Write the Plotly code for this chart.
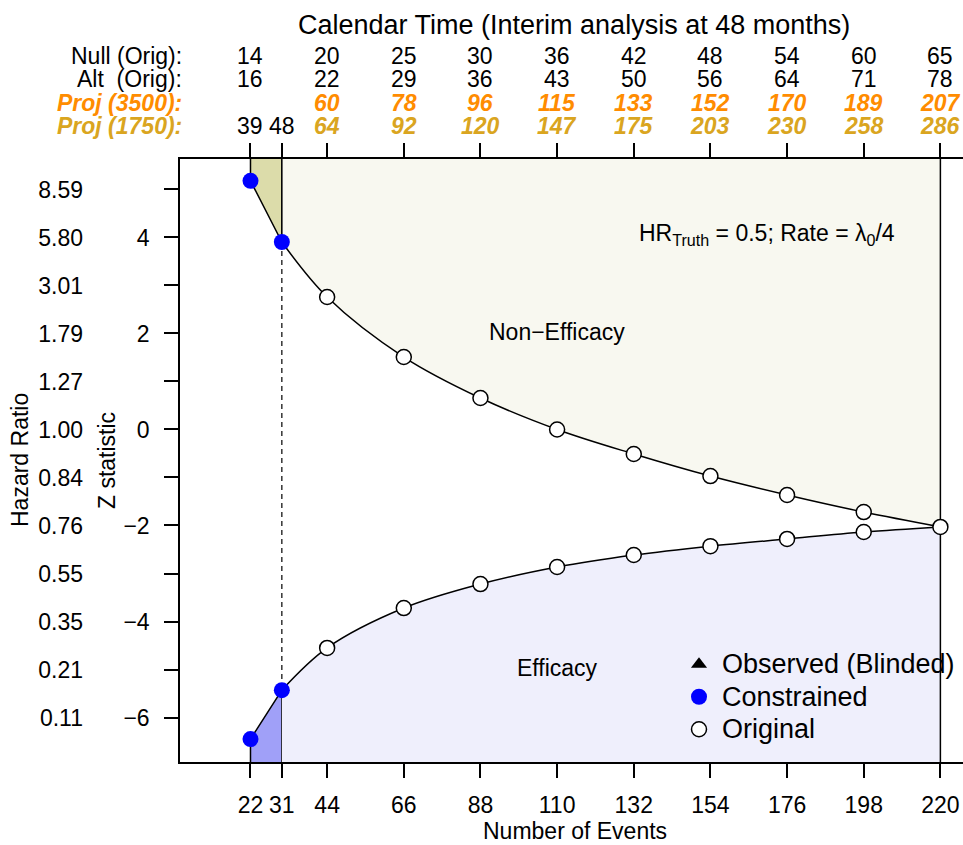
import plotly.graph_objects as go

# ---------------- data ----------------
events = [22, 31, 44, 66, 88, 110, 132, 154, 176, 198, 220]
upper_z = [5.18, 3.906, 2.76, 1.51, 0.656, 0.0, -0.51, -0.97, -1.365, -1.72, -2.03]
lower_z = [-6.45, -5.43, -4.55, -3.72, -3.22, -2.865, -2.615, -2.43, -2.28, -2.135, -2.03]

z_ticks = [-6, -5, -4, -3, -2, -1, 0, 1, 2, 3, 4, 5]
z_ticktext = ["\u22126", "", "\u22124", "", "\u22122", "", "0", "", "2", "", "4", ""]
hr_ticktext = ["0.11", "0.21", "0.35", "0.55", "0.76", "0.84", "1.00", "1.27", "1.79", "3.01", "5.80", "8.59"]

null_orig = ["14", "", "20", "25", "30", "36", "42", "48", "54", "60", "65"]
alt_orig = ["16", "", "22", "29", "36", "43", "50", "56", "64", "71", "78"]
proj_3500 = ["", "", "60", "78", "96", "115", "133", "152", "170", "189", "207"]
proj_1750 = ["39", "48", "64", "92", "120", "147", "175", "203", "230", "258", "286"]
proj_1750_observed = [True, True, False, False, False, False, False, False, False, False, False]

X_RANGE = [1.77, 226.49]
Y_RANGE = [-6.927, 5.635]
Y_BOT, Y_TOP = Y_RANGE

W, H = 963, 845
FONT = "Liberation Sans, Arial, sans-serif"
ORANGE = "#FF8C00"
GOLD = "#DAA520"


def px(xp):
    return xp / W


def py(yp):
    return 1 - yp / H


fig = go.Figure()

# upper dark region (22-31)
fig.add_trace(go.Scatter(
    x=[events[0], events[0], events[1], events[1]],
    y=[Y_TOP, upper_z[0], upper_z[1], Y_TOP],
    mode="lines", fill="toself", fillcolor="#DCDCAA",
    line=dict(color="black", width=1.5), showlegend=False, hoverinfo="skip"))
# upper light region (31-220)
fig.add_trace(go.Scatter(
    x=events[1:], y=[Y_TOP] * len(events[1:]), mode="lines",
    line=dict(width=0, color="rgba(0,0,0,0)"), showlegend=False, hoverinfo="skip"))
fig.add_trace(go.Scatter(
    x=events[1:], y=upper_z[1:], mode="lines", fill="tonexty", fillcolor="#F8F8F0",
    line=dict(color="black", width=1.5, shape="spline", smoothing=1.0),
    showlegend=False, hoverinfo="skip"))
# lower dark region (22-31)
fig.add_trace(go.Scatter(
    x=[events[0], events[0], events[1], events[1]],
    y=[Y_BOT, lower_z[0], lower_z[1], Y_BOT],
    mode="lines", fill="toself", fillcolor="#A0A0F8",
    line=dict(color="black", width=1.5), showlegend=False, hoverinfo="skip"))
# lower light region (31-220)
fig.add_trace(go.Scatter(
    x=events[1:], y=[Y_BOT] * len(events[1:]), mode="lines",
    line=dict(width=0, color="rgba(0,0,0,0)"), showlegend=False, hoverinfo="skip"))
fig.add_trace(go.Scatter(
    x=events[1:], y=lower_z[1:], mode="lines", fill="tonexty", fillcolor="#EFEFFC",
    line=dict(color="black", width=1.5, shape="spline", smoothing=1.0),
    showlegend=False, hoverinfo="skip"))
# vertical borders
fig.add_trace(go.Scatter(
    x=[events[1], events[1], None, events[-1], events[-1]],
    y=[Y_TOP, upper_z[1], None, Y_BOT, Y_TOP],
    mode="lines", line=dict(color="black", width=1.5), showlegend=False, hoverinfo="skip"))
# dashed line at interim
fig.add_trace(go.Scatter(
    x=[events[1], events[1]], y=[upper_z[1], lower_z[1]],
    mode="lines", line=dict(color="black", width=1.2, dash="5px,4px"),
    showlegend=False, hoverinfo="skip"))
# dummy trace so the hazard-ratio axis is drawn
fig.add_trace(go.Scatter(x=[None], y=[None], yaxis="y2", mode="markers",
                         showlegend=False, hoverinfo="skip"))

LEG = '<span style="font-size:27px">{}</span>'
# legend + points
fig.add_trace(go.Scatter(
    x=[None], y=[None], mode="markers", name=LEG.format("Observed (Blinded)"),
    marker=dict(symbol="triangle-up", color="black", size=14)))
fig.add_trace(go.Scatter(
    x=events[:2] + events[:2], y=upper_z[:2] + lower_z[:2], mode="markers",
    name=LEG.format("Constrained"), marker=dict(color="#0000FF", size=16, line=dict(width=0))))
fig.add_trace(go.Scatter(
    x=events[2:] + events[2:-1], y=upper_z[2:] + lower_z[2:-1], mode="markers",
    name=LEG.format("Original"),
    marker=dict(color="white", size=15, line=dict(color="black", width=1.5))))


def ann(x, y, text, xref="paper", yref="paper", size=23, color="black", **kw):
    d = dict(x=x, y=y, xref=xref, yref=yref, text=text, showarrow=False,
             xanchor="center", yanchor="middle", font=dict(size=size, color=color))
    d.update(kw)
    return d


annotations = []
# region labels
annotations.append(ann(110, 2.03, "Non\u2212Efficacy", xref="x", yref="y"))
annotations.append(ann(110, -4.97, "Efficacy", xref="x", yref="y"))
annotations.append(ann(px(767), py(235),
                       "HR<sub>Truth</sub> = 0.5; Rate = \u03bb<sub>0</sub>/4"))

# top rows
annotations.append(ann(px(573.5), py(25), "Calendar Time (Interim analysis at 48 months)", size=27))
row_y = [55.8, 79.2, 102.7, 126]
row_labels = ["Null (Orig):", "Alt\u00a0 (Orig):", "<b><i>Proj (3500):</i></b>", "<b><i>Proj (1750):</i></b>"]
row_colors = ["black", "black", ORANGE, GOLD]
for ry, lab, col in zip(row_y, row_labels, row_colors):
    annotations.append(ann(px(184), py(ry), lab, color=col, xanchor="right"))

rows = [(row_y[0], null_orig, "black", False),
        (row_y[1], alt_orig, "black", False),
        (row_y[2], proj_3500, ORANGE, True),
        (row_y[3], proj_1750, GOLD, True)]
for i, ev in enumerate(events):
    for ry, vals, col, styled in rows:
        v = vals[i]
        if not v:
            continue
        c = col
        txt = v
        if vals is proj_1750 and proj_1750_observed[i]:
            c = "black"
        elif styled:
            txt = "<b><i>" + v + "</i></b>"
        annotations.append(ann(ev, py(ry), txt, xref="x", yref="paper", color=c))

# axis titles
annotations.append(ann(px(575), py(831), "Number of Events"))
annotations.append(ann(px(20), py(460), "Hazard Ratio", textangle=-90))
annotations.append(ann(px(107), py(461), "Z statistic", textangle=-90))

fig.update_layout(
    width=W, height=H,
    margin=dict(l=0, r=0, t=0, b=0, pad=0),
    paper_bgcolor="white", plot_bgcolor="white",
    font=dict(family=FONT, color="black", size=23),
    showlegend=True,
    legend=dict(x=px(676), y=py(643), xanchor="left", yanchor="top",
                bgcolor="rgba(0,0,0,0)", borderwidth=0, traceorder="normal",
                font=dict(size=22.7), itemsizing="trace", itemwidth=36, tracegroupgap=0),
    annotations=annotations,
    xaxis=dict(domain=[180 / W, 1], range=X_RANGE, tickmode="array",
               tickvals=events, ticktext=[str(e) for e in events],
               ticks="outside", ticklen=14, tickwidth=1.5, tickcolor="black",
               showline=True, linecolor="black", linewidth=1.5, mirror="ticks",
               showgrid=False, zeroline=False, tickfont=dict(size=23),
               ticklabelstandoff=8, automargin=False),
    yaxis=dict(domain=[1 - 762 / H, 1 - 159 / H], range=Y_RANGE, tickmode="array",
               tickvals=z_ticks, ticktext=z_ticktext,
               ticks="outside", ticklen=14, tickwidth=1.5, tickcolor="black",
               showline=True, linecolor="black", linewidth=1.5,
               showgrid=False, zeroline=False, tickfont=dict(size=23),
               ticklabelstandoff=10, automargin=False),
    yaxis2=dict(overlaying="y", anchor="free", position=83 / W, side="left",
                range=Y_RANGE, tickmode="array", tickvals=z_ticks, ticktext=hr_ticktext,
                ticks="", showline=False, showgrid=False, zeroline=False,
                tickfont=dict(size=23), automargin=False),
)

fig.write_html("out.html")
